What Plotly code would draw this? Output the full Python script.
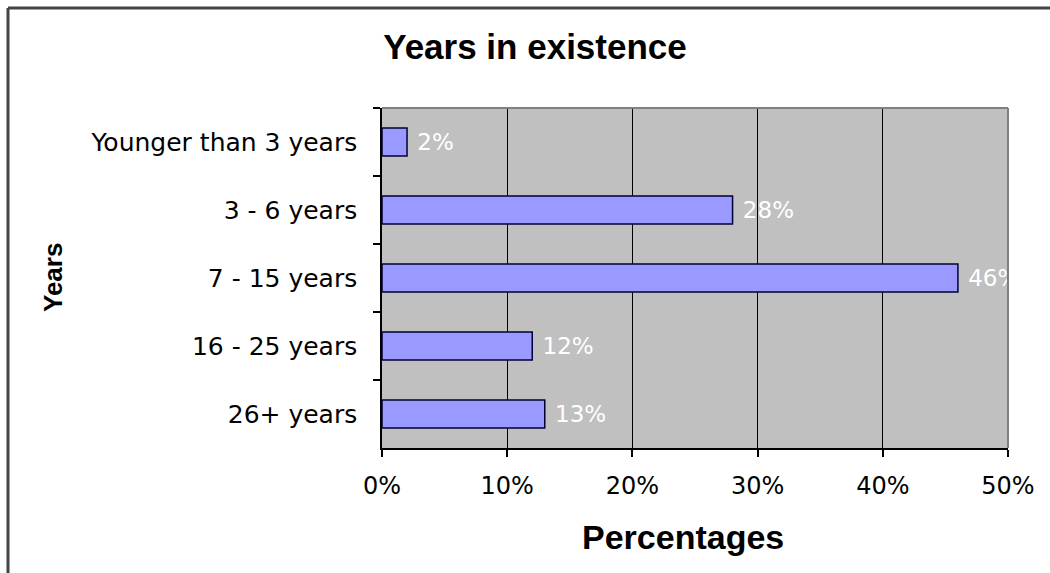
import plotly.graph_objects as go

categories = ["Younger than 3 years", "3 - 6 years", "7 - 15 years", "16 - 25 years", "26+ years"]
values = [2, 28, 46, 12, 13]
labels = ["2%", "28%", "46%", "12%", "13%"]
x_ticks = [0, 10, 20, 30, 40, 50]
x_ticklabels = ["0%", "10%", "20%", "30%", "40%", "50%"]

W, H = 1050, 573
L, R, T, B = 382, 42, 108, 125
pw, ph = W - L - R, H - T - B

def px_x(x):
    return (x - L) / pw

def px_y(y):
    return (H - B - y) / ph

fig = go.Figure()
fig.add_trace(go.Bar(
    y=categories, x=values, orientation="h",
    text=labels, texttemplate=" %{text}", textposition="outside", cliponaxis=True,
    textfont=dict(family="DejaVu Sans", size=23, color="white"),
    marker=dict(color="#9999FF", line=dict(color="#000033", width=1.5)),
    width=0.41,
))

fig.update_layout(
    width=W, height=H,
    margin=dict(l=L, r=R, t=T, b=B),
    paper_bgcolor="white", plot_bgcolor="#C0C0C0",
    showlegend=False,
    font=dict(family="DejaVu Sans", size=24, color="#000000"),
    title=dict(text="<b>Years in existence</b>", x=px_x(535), xref="paper", xanchor="center",
               y=1 - 47 / H, yref="container", yanchor="middle",
               font=dict(family="Liberation Sans", size=35, color="black")),
    xaxis=dict(range=[0, 50], tickvals=x_ticks, ticktext=x_ticklabels,
               showgrid=True, gridcolor="black", gridwidth=1,
               showline=True, linecolor="black", linewidth=1.5,
               ticks="outside", ticklen=7, tickcolor="black", tickwidth=1.5,
               ticklabelstandoff=8, zeroline=False, mirror=False,
               tickfont=dict(family="DejaVu Sans", size=24)),
    yaxis=dict(autorange="reversed", type="category",
               showline=True, linecolor="black", linewidth=1.5,
               ticks="outside", ticklen=7, tickcolor="black", tickwidth=1.5,
               tickson="boundaries", showgrid=False,
               ticklabelstandoff=18,
               tickfont=dict(family="DejaVu Sans", size=25)),
    bargap=0.59,
    shapes=[
        # top and right border of plot area
        dict(type="line", xref="paper", yref="paper", x0=0, x1=1, y0=1, y1=1,
             line=dict(color="#808080", width=2)),
        dict(type="line", xref="paper", yref="paper", x0=1, x1=1, y0=0, y1=1,
             line=dict(color="#808080", width=2)),
        # outer chart border (top and left edges visible)
        dict(type="line", xref="paper", yref="paper",
             x0=px_x(8), x1=px_x(1200), y0=px_y(8), y1=px_y(8),
             line=dict(color="#444444", width=3), layer="above"),
        dict(type="line", xref="paper", yref="paper",
             x0=px_x(8), x1=px_x(8), y0=px_y(8), y1=px_y(700),
             line=dict(color="#444444", width=3), layer="above"),
    ],
    annotations=[
        dict(text="<b>Percentages</b>", xref="paper", yref="paper",
             x=px_x(683), y=px_y(537), xanchor="center", yanchor="middle",
             showarrow=False, font=dict(family="Liberation Sans", size=34, color="black")),
        dict(text="<b>Years</b>", xref="paper", yref="paper",
             x=px_x(53), y=px_y(278), xanchor="center", yanchor="middle", textangle=-90,
             showarrow=False, font=dict(family="Liberation Sans", size=26, color="black")),
    ],
)

fig.write_html("out.html")
